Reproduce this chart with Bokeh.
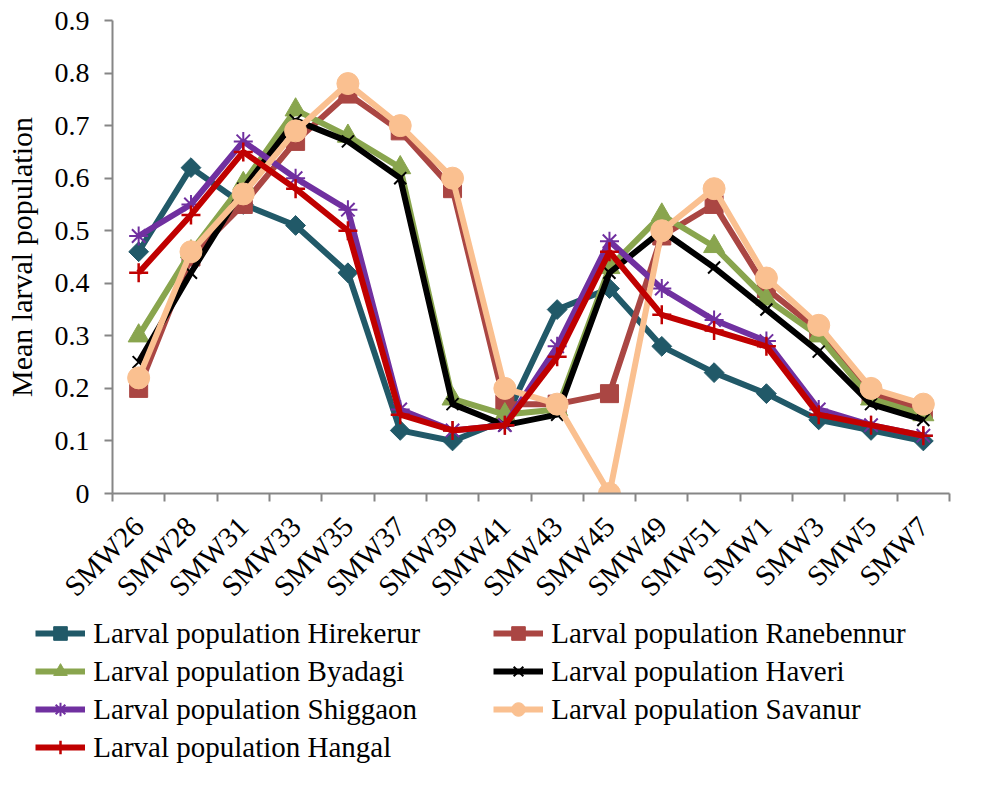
from math import pi
from bokeh.plotting import figure
from bokeh.layouts import column
from bokeh.models import (Range1d, FixedTicker, NumeralTickFormatter, Legend, LegendItem)
from bokeh.embed import file_html
from bokeh.resources import INLINE

weeks = ["SMW26", "SMW28", "SMW31", "SMW33", "SMW35", "SMW37", "SMW39", "SMW41",
         "SMW43", "SMW45", "SMW49", "SMW51", "SMW1", "SMW3", "SMW5", "SMW7"]

hirekerur = [0.46, 0.62, 0.55, 0.51, 0.42, 0.12, 0.10, 0.14, 0.35, 0.39, 0.28, 0.23, 0.19, 0.14, 0.12, 0.10]
ranebennur = [0.20, 0.45, 0.55, 0.67, 0.76, 0.69, 0.58, 0.17, 0.17, 0.19, 0.49, 0.55, 0.39, 0.31, 0.19, 0.16]
byadagi = [0.30, 0.46, 0.59, 0.73, 0.68, 0.62, 0.18, 0.15, 0.16, 0.43, 0.53, 0.47, 0.37, 0.30, 0.18, 0.15]
haveri = [0.25, 0.42, 0.58, 0.71, 0.67, 0.60, 0.17, 0.13, 0.15, 0.42, 0.50, 0.43, 0.35, 0.27, 0.17, 0.14]
shiggaon = [0.49, 0.55, 0.67, 0.60, 0.54, 0.16, 0.12, 0.13, 0.28, 0.48, 0.39, 0.33, 0.29, 0.16, 0.13, 0.11]
savanur = [0.22, 0.46, 0.57, 0.69, 0.78, 0.70, 0.60, 0.20, 0.17, 0.00, 0.50, 0.58, 0.41, 0.32, 0.20, 0.17]
hangal = [0.42, 0.53, 0.65, 0.58, 0.50, 0.15, 0.12, 0.13, 0.26, 0.46, 0.34, 0.31, 0.28, 0.15, 0.13, 0.11]

y_ticks = [0.0, 0.1, 0.2, 0.3, 0.4, 0.5, 0.6, 0.7, 0.8, 0.9]

FONT = "Liberation Serif"
AXIS_COL = "#868686"

n = len(weeks)
xs = [i + 0.5 for i in range(n)]

p = figure(output_backend="svg", toolbar_location=None,
           frame_width=837, frame_height=473,
           min_border_left=112, min_border_right=36, min_border_top=20, min_border_bottom=100,
           x_range=Range1d(0, n), y_range=Range1d(0, 0.9))
p.outline_line_color = None
p.xgrid.visible = False
p.ygrid.visible = False
p.background_fill_color = "white"
p.border_fill_color = "white"

# axes
xa = p.xaxis[0]
xa.ticker = FixedTicker(ticks=xs, minor_ticks=list(range(n + 1)))
xa.major_label_overrides = {x: w for x, w in zip(xs, weeks)}
xa.major_label_orientation = pi / 4
xa.major_tick_out = 0
xa.major_tick_in = 0
xa.minor_tick_out = 8
xa.minor_tick_in = 0
xa.minor_tick_line_color = AXIS_COL
xa.minor_tick_line_width = 2
xa.axis_line_color = AXIS_COL
xa.axis_line_width = 2
xa.major_label_text_font = FONT
xa.major_label_text_font_size = "29px"
xa.major_label_text_color = "black"
xa.major_label_standoff = 20

ya = p.yaxis[0]
ya.ticker = FixedTicker(ticks=y_ticks, minor_ticks=[])
ya.formatter = NumeralTickFormatter(format="0.[0]")
ya.major_tick_out = 8
ya.major_tick_in = 0
ya.major_tick_line_color = AXIS_COL
ya.major_tick_line_width = 2
ya.minor_tick_line_color = None
ya.axis_line_color = AXIS_COL
ya.axis_line_width = 2
ya.major_label_text_font = FONT
ya.major_label_text_font_size = "28px"
ya.major_label_text_color = "black"
ya.major_label_standoff = 15
ya.axis_label = "Mean larval population"
ya.axis_label_text_font = FONT
ya.axis_label_text_font_size = "30px"
ya.axis_label_text_font_style = "normal"
ya.axis_label_text_color = "black"
ya.axis_label_standoff = 14

series = [
    ("Larval population Hirekerur", hirekerur, "#215968", "square", 14, 0.25 * pi, 1),
    ("Larval population Ranebennur", ranebennur, "#AA4643", "square", 18, 0, 1),
    ("Larval population Byadagi", byadagi, "#89A54E", "triangle", 21, 0, 1),
    ("Larval population Haveri", haveri, "#000000", "x", 17, 0, 2),
    ("Larval population Shiggaon", shiggaon, "#7030A0", "asterisk", 19, 0, 2),
    ("Larval population Savanur", savanur, "#FAC090", "circle", 22, 0, 1),
    ("Larval population Hangal", hangal, "#C00000", "cross", 19, 0, 2.5),
]

# legend-only figure below the chart (its copies of the data lie outside its visible range)
q = figure(output_backend="svg", toolbar_location=None,
           frame_width=879, frame_height=165,
           min_border_left=106, min_border_right=0, min_border_top=0, min_border_bottom=0,
           x_range=Range1d(100, 101), y_range=Range1d(100, 101))
q.outline_line_color = None
q.xaxis.visible = False
q.yaxis.visible = False
q.xgrid.visible = False
q.ygrid.visible = False
q.background_fill_color = "white"
q.border_fill_color = "white"

items = []
for name, vals, col, marker, size, ang, mlw in series:
    p.line(xs, vals, line_color=col, line_width=6)
    p.scatter(xs, vals, marker=marker, size=size, angle=ang,
              fill_color=col, line_color=col, line_width=mlw)
    l1 = q.line(xs, vals, line_color=col, line_width=6)
    l2 = q.scatter(xs, vals, marker=marker, size=size, angle=ang,
                   fill_color=col, line_color=col, line_width=mlw)
    items.append(LegendItem(label=name, renderers=[l1, l2]))

lg = Legend(items=items, location="top_left", orientation="horizontal", ncols=2)
lg.label_text_font = FONT
lg.label_text_font_size = "29px"
lg.label_text_color = "black"
lg.glyph_width = 50
lg.glyph_height = 34
lg.label_height = 34
lg.label_width = 396
lg.label_standoff = 8
lg.spacing = 4
lg.padding = 0
lg.margin = 0
lg.border_line_color = None
lg.background_fill_alpha = 0
q.add_layout(lg, "center")

layout = column(p, q, spacing=0)
open("out.html", "w").write(file_html(layout, INLINE))
